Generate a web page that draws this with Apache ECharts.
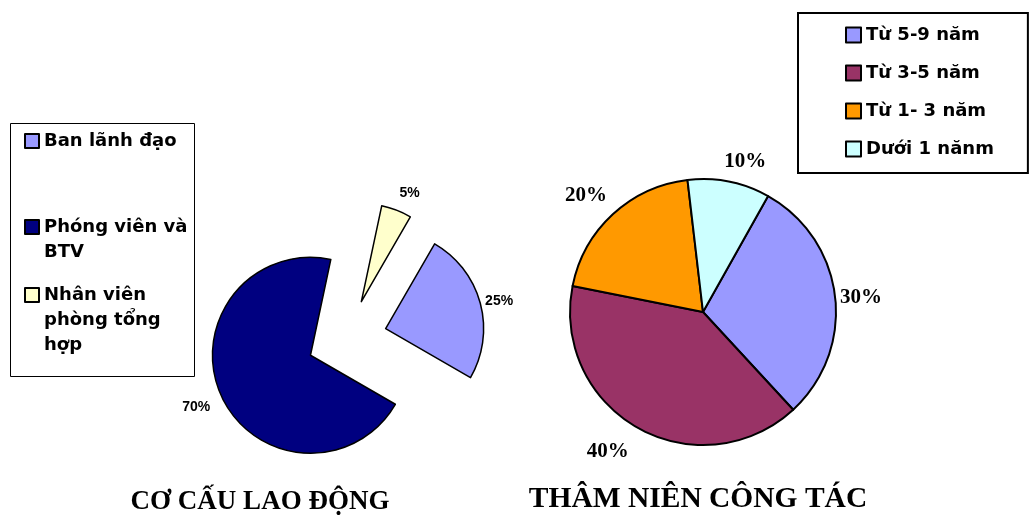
<!DOCTYPE html>
<html><head><meta charset="utf-8">
<script src="https://cdn.jsdelivr.net/npm/echarts@6/dist/echarts.min.js"></script>
<style>html,body{margin:0;padding:0;background:#fff}#c{width:1030px;height:518px}</style>
</head><body><div id="c"></div>
<script>
// ---- data ----
const laborCategories = ['Ban lãnh đạo', 'Phóng viên và BTV', 'Nhân viên phòng tổng hợp'];
const laborValues = [25, 70, 5];
const seniorityCategories = ['Từ 5-9 năm', 'Từ 3-5 năm', 'Từ 1- 3 năm', 'Dưới 1 nănm'];
const seniorityValues = [30, 40, 20, 10];
const chartTitles = ['CƠ CẤU LAO ĐỘNG', 'THÂM NIÊN CÔNG TÁC'];

// ---- styles ----
const laborColors = ['#9999FF', '#000080', '#FFFFCC'];
const seniorityColors = ['#9999FF', '#993366', '#FF9900', '#CCFFFF'];
const laborLabelLen = [6, 16, 14];
const laborLabelShift = [[-1, -1], [4, 6], [-2, -4]];
const seniorityLabelLen = [5, 21, 19, 22];
const seniorityLabelShift = [[0, 2], [1, 5], [7, -5], [-9, 2]];
const legendWrap = {
  'Phóng viên và BTV': '\nPhóng viên và\nBTV',
  'Nhân viên phòng tổng hợp': '\n\nNhân viên\nphòng tổng\nhợp'
};
const legendFont = {fontFamily: 'DejaVu Sans', fontWeight: 'bold', fontSize: 18, color: '#000'};

function leftLegend(name, top) {
  return {
    data: [name], left: 24, top: top, orient: 'vertical', padding: 0,
    itemWidth: 14, itemHeight: 14, icon: 'rect', selectedMode: false,
    formatter: n => legendWrap[n] || n,
    textStyle: Object.assign({lineHeight: 25}, legendFont)
  };
}

const chart = echarts.init(document.getElementById('c'), null, {renderer: 'canvas'});
chart.setOption({
  backgroundColor: '#fff',
  animation: false,
  title: [
    {text: chartTitles[0], left: 260, top: 487, textAlign: 'center', padding: 0,
     textStyle: {fontFamily: 'Liberation Serif', fontWeight: 'bold', fontSize: 27, lineHeight: 30, color: '#000'}},
    {text: chartTitles[1], left: 698, top: 483, textAlign: 'center', padding: 0,
     textStyle: {fontFamily: 'Liberation Serif', fontWeight: 'bold', fontSize: 29.5, lineHeight: 32, color: '#000'}}
  ],
  graphic: [
    {type: 'rect', z: 0, shape: {x: 10.5, y: 123.5, width: 184, height: 253},
     style: {fill: 'none', stroke: '#000', lineWidth: 1}}
  ],
  legend: [
    leftLegend(laborCategories[0], 128.5),
    leftLegend(laborCategories[1], 189.5),
    leftLegend(laborCategories[2], 232.5),
    {
      data: seniorityCategories, left: 798, top: 13, orient: 'vertical',
      padding: [12, 34, 14, 47], itemGap: 18, itemWidth: 15, itemHeight: 15, icon: 'rect',
      selectedMode: false, borderColor: '#000', borderWidth: 2,
      textStyle: Object.assign({lineHeight: 20}, legendFont)
    }
  ],
  series: [
    {
      type: 'pie', center: [347, 339], radius: 98, startAngle: 60, clockwise: true,
      selectedMode: 'multiple', selectedOffset: 40, avoidLabelOverlap: false,
      itemStyle: {borderColor: '#000', borderWidth: 1.5},
      emphasis: {scale: false},
      label: {show: true, position: 'outside', formatter: '{c}%', distanceToLabelLine: 0,
        fontFamily: 'Liberation Sans', fontWeight: 'bold', fontSize: 14, color: '#000'},
      labelLine: {show: false, length2: 0},
      labelLayout: p => ({dx: laborLabelShift[p.dataIndex][0], dy: laborLabelShift[p.dataIndex][1]}),
      data: laborCategories.map((n, i) => ({
        name: n, value: laborValues[i], selected: true,
        itemStyle: {color: laborColors[i]},
        labelLine: {show: false, length: laborLabelLen[i], length2: 0}
      }))
    },
    {
      type: 'pie', center: [703, 312], radius: 133, startAngle: 60.7, clockwise: true,
      avoidLabelOverlap: false,
      itemStyle: {borderColor: '#000', borderWidth: 2},
      emphasis: {scale: false},
      label: {show: true, position: 'outside', formatter: '{c}%', distanceToLabelLine: 0,
        fontFamily: 'Liberation Serif', fontWeight: 'bold', fontSize: 21, color: '#000'},
      labelLine: {show: false, length2: 0},
      labelLayout: p => ({dx: seniorityLabelShift[p.dataIndex][0], dy: seniorityLabelShift[p.dataIndex][1]}),
      data: seniorityCategories.map((n, i) => ({
        name: n, value: seniorityValues[i],
        itemStyle: {color: seniorityColors[i]},
        labelLine: {show: false, length: seniorityLabelLen[i], length2: 0}
      }))
    }
  ]
});
</script>
</body></html>
